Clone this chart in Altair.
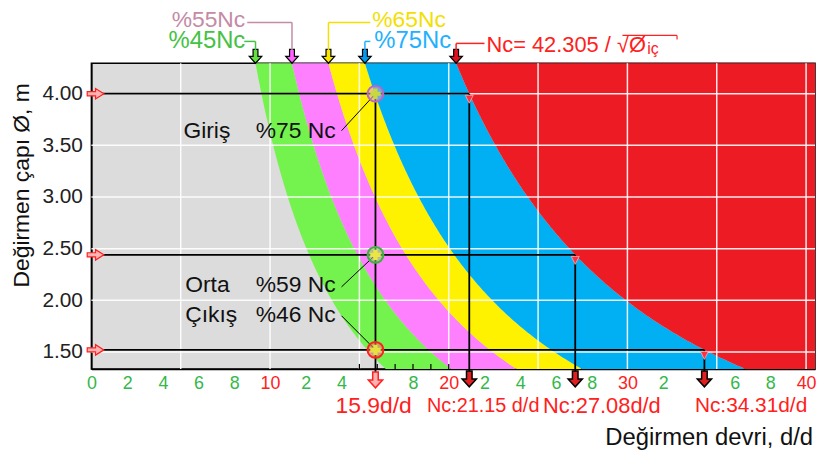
import altair as alt
import numpy as np
import pandas as pd

FONT = "Liberation Sans"

# ---- chart values ----
K_CRIT = 42.305                      # Nc = 42.305 / sqrt(D_ic)
band_names = ["%45-55 Nc", "%55-65 Nc", "%65-75 Nc", "%75-100 Nc", "> Nc"]
band_lo_pct = [0.45, 0.55, 0.65, 0.75, 1.00]
band_hi_pct = [0.55, 0.65, 0.75, 1.00, None]
band_colors = ["#74f24e", "#ff80ff", "#fff200", "#00b0f2", "#ed1c24"]
arrow_pcts = [0.45, 0.55, 0.65, 0.75, 1.00]
arrow_colors = ["#66e040", "#ff60ff", "#f8e800", "#0099ee", "#e01020"]

stages = ["Giriş", "Orta", "Çıkış"]
stage_pct_labels = ["%75 Nc", "%59 Nc", "%46 Nc"]
stage_diam = [4.00, 2.44, 1.52]
stage_nc = [21.15, 27.08, 34.31]
stage_ring = ["#b468c8", "#3cb43c", "#ff2020"]
stage_fill = ["#d9a0d0", "#88e060", "#ff7070"]
stage_cross = ["#c8d840", "#e8e840", "#e8e040"]
mill_speed = 15.9
bottom_labels = ["15.9d/d", "Nc:21.15 d/d", "Nc:27.08d/d", "Nc:34.31d/d"]

x_tick_values = [0, 2, 4, 6, 8, 10, 12, 14, 18, 20, 22, 24, 26, 28, 30, 32, 36, 38, 40]
y_tick_values = [1.5, 2.0, 2.5, 3.0, 3.5, 4.0]
grid_x = [5, 10, 15, 20, 25, 30, 35, 40]
grid_y = [1.5, 2.0, 2.5, 3.0, 3.5, 4.0]
minor_x = [15, 16, 17, 18, 19, 20]

X_MAX = 40.5
Y_MIN, Y_MAX = 1.335, 4.295
W, H = 729, 308

xs = alt.Scale(domain=[0, X_MAX], nice=False, zero=False)
ys = alt.Scale(domain=[Y_MIN, Y_MAX], nice=False, zero=False)

label_expr = ("datum.value == 0 ? '0' : (datum.value % 10 == 0 ? datum.label : '' + (datum.value % 10))")
X_AXIS = alt.Axis(
    values=x_tick_values, format="d", title=None, grid=False, ticks=False, tickSize=0,
    labelPadding=6, labelFontSize=18, labelFont=FONT, labelExpr=label_expr, labelFlush=False,
    labelColor={"condition": {"test": "datum.value % 10 == 0 && datum.value > 0", "value": "#ff2020"},
                "value": "#33b84a"},
    domainColor="#000000", domainWidth=1.5, labelOverlap=False)
Y_AXIS = alt.Axis(
    values=y_tick_values, format=".2f", title=None, grid=False, ticks=False, tickSize=0,
    labelPadding=9, labelFontSize=21, labelFont=FONT, labelColor="#222222", labelFlush=False,
    domainColor="#000000", domainWidth=1.5)


def XQ(f):
    return alt.X(f, type="quantitative", scale=xs, axis=X_AXIS)


def YQ(f):
    return alt.Y(f, type="quantitative", scale=ys, axis=Y_AXIS)


# ---- band table built from the formula on the chart ----
d_grid = np.linspace(Y_MIN, Y_MAX, 160)
rows = []
for name, lo, hi in zip(band_names, band_lo_pct, band_hi_pct):
    for d in d_grid:
        nc = K_CRIT / np.sqrt(d)
        rows.append({"band": name, "D": d, "lo": lo * nc,
                     "hi": (hi * nc) if hi is not None else X_MAX})
band_df = pd.DataFrame(rows)

bands = alt.Chart(band_df).mark_area(orient="horizontal").encode(
    y=YQ("D"), x=XQ("lo"), x2="hi:Q",
    color=alt.Color("band:N", scale=alt.Scale(domain=band_names, range=band_colors), legend=None),
)

gx = alt.Chart(pd.DataFrame({"g": grid_x})).mark_rule(color="white", strokeWidth=1.5, opacity=0.9).encode(
    x=XQ("g"), y=alt.value(0), y2=alt.value(H))
gy = alt.Chart(pd.DataFrame({"g": grid_y})).mark_rule(color="white", strokeWidth=1.5, opacity=0.9).encode(
    y=YQ("g"), x=alt.value(0), x2=alt.value(W))
minor = alt.Chart(pd.DataFrame({"m": minor_x})).mark_rule(color="#000", strokeWidth=1.2).encode(
    x=XQ("m"), y=alt.value(H - 5), y2=alt.value(H))

stage_df = pd.DataFrame({"stage": stages, "D": stage_diam, "nc": stage_nc, "x0": [0] * 3,
                         "ms": [mill_speed] * 3, "ring": stage_ring, "fillc": stage_fill,
                         "crossc": stage_cross})

hlines = alt.Chart(stage_df).mark_rule(color="#000", strokeWidth=1.8).encode(
    x=XQ("x0"), x2="nc:Q", y=YQ("D"))

vline_df = pd.DataFrame({"x": [mill_speed] + stage_nc, "D": [stage_diam[0]] + stage_diam})
vlines = alt.Chart(vline_df).mark_rule(color="#000", strokeWidth=1.8).encode(
    x=XQ("x"), y=YQ("D"), y2=alt.value(H + 9))

# annotations inside plot (data coordinates)
ann_df = pd.DataFrame({
    "x": [5.15, 5.25, 5.25, 9.2, 9.2, 9.2],
    "y": [3.642, 2.152, 1.854, 3.642, 2.152, 1.854],
    "t": stages + stage_pct_labels})
ann = alt.Chart(ann_df).mark_text(align="left", baseline="middle", font=FONT, fontSize=23,
                                  color="#111111").encode(x=XQ("x"), y=YQ("y"), text="t:N")
lead_df = pd.DataFrame({"x": [14.0, 14.0, 14.0], "y": [3.642, 2.13, 1.85],
                        "x2": [mill_speed] * 3, "y2": stage_diam})
leads = alt.Chart(lead_df).mark_rule(color="#000", strokeWidth=1).encode(
    x=XQ("x"), y=YQ("y"), x2="x2:Q", y2="y2:Q")

RIGHT_ARROW = "M -0.6 -0.3 L 0.6 -0.3 L 0.6 -0.75 L 1.8 0 L 0.6 0.75 L 0.6 0.3 L -0.6 0.3 Z"
DOWN_ARROW = "M -0.35 -1 L 0.35 -1 L 0.35 0 L 0.9 0 L 0 1 L -0.9 0 L -0.35 0 Z"
SMALL_DOWN = "M -1 0.4 L 1 0.4 L 0 2.4 Z"

left_marks = alt.Chart(stage_df).mark_point(shape=RIGHT_ARROW, filled=True, size=196, fill="#ffb4b4",
                                            stroke="#ff2020", strokeWidth=1.2, opacity=1).encode(
    x=XQ("x0"), y=YQ("D"))
nc_marks = alt.Chart(stage_df).mark_point(shape=SMALL_DOWN, filled=True, size=64, fill="#ff3040",
                                          stroke="#ffb0b0", strokeWidth=0.8, opacity=1).encode(
    x=XQ("nc"), y=YQ("D"))
dots = alt.Chart(stage_df).mark_point(shape="circle", filled=True, size=256, strokeWidth=2,
                                      fillOpacity=0.55, opacity=1).encode(
    x=XQ("ms"), y=YQ("D"), fill=alt.Fill("fillc:N", scale=None), stroke=alt.Stroke("ring:N", scale=None))
crosses = alt.Chart(stage_df).mark_point(shape="cross", filled=True, size=110, opacity=1).encode(
    x=XQ("ms"), y=YQ("D"), fill=alt.Fill("crossc:N", scale=None))

# arrows on top edge
top_df = pd.DataFrame({"ax": [p * K_CRIT / np.sqrt(Y_MAX) for p in arrow_pcts], "c": arrow_colors})
top_arrows = alt.Chart(top_df).mark_point(shape=DOWN_ARROW, filled=True, size=196, stroke="#000",
                                          strokeWidth=1.2, opacity=1).encode(
    x=XQ("ax"), y=alt.value(-7), fill=alt.Fill("c:N", scale=None))

# arrows under the x axis
bot_df = pd.DataFrame({"x": stage_nc})
bot_arrows = alt.Chart(bot_df).mark_point(shape=DOWN_ARROW, filled=True, size=256, fill="#e02020",
                                          stroke="#000", strokeWidth=1.5, opacity=1).encode(
    x=XQ("x"), y=alt.value(H + 10))
ms_arrow = alt.Chart(pd.DataFrame({"x": [mill_speed]})).mark_point(
    shape=DOWN_ARROW, filled=True, size=256, fill="#ffb0b0", stroke="#ff2020", strokeWidth=1.5,
    opacity=1).encode(x=XQ("x"), y=alt.value(H + 11))


def ptext(text, x, y, color, size, align="left", angle=None, baseline="middle"):
    kw = dict(align=align, baseline=baseline, font=FONT, fontSize=size, color=color, text=text)
    if angle is not None:
        kw["angle"] = angle
    return alt.Chart(pd.DataFrame({"a": [0]})).mark_text(**kw).encode(x=alt.value(x), y=alt.value(y))


def prule(x, x2, y, y2, color, w=1.5):
    return alt.Chart(pd.DataFrame({"a": [0]})).mark_rule(color=color, strokeWidth=w).encode(
        x=alt.value(x), x2=alt.value(x2), y=alt.value(y), y2=alt.value(y2))


def conn(ax, y, x_end, color):
    d = pd.DataFrame({"ax": [ax]})
    h = alt.Chart(d).mark_rule(color=color, strokeWidth=1.5).encode(
        x=XQ("ax"), x2=alt.value(x_end), y=alt.value(y))
    v = alt.Chart(d).mark_rule(color=color, strokeWidth=1.5).encode(
        x=XQ("ax"), y=alt.value(y), y2=alt.value(-13))
    return h + v


ax = list(top_df["ax"])
outside = [
    ptext("%55Nc", 155, -44, "#c48aa6", 23, align="right"),
    ptext("%45Nc", 155, -22, "#44c244", 24, align="right"),
    ptext("%65Nc", 283, -44, "#f2e000", 23),
    ptext("%75Nc", 285, -22, "#22b0ff", 24),
    ptext("Nc= 42.305 / √Ø", 398, -18, "#ff2020", 22),
    ptext("iç", 560, -14, "#ff2020", 16),
    prule(535, 590, -28, -28, "#ff2020", 1.2),
    prule(590, 590, -28, -24, "#ff2020", 1.2),
    conn(ax[1], -41, 157, "#c48aa6"),
    conn(ax[0], -22, 154, "#44c244"),
    conn(ax[2], -41, 281, "#f2e000"),
    conn(ax[3], -22, 281, "#22b0ff"),
    conn(ax[4], -20, 396, "#ff2020"),
    ptext(bottom_labels[0], 246, 345, "#ff2020", 23),
    ptext(bottom_labels[1], 338, 345, "#ff2020", 20),
    ptext(bottom_labels[2], 455, 345, "#ff2020", 22),
    ptext(bottom_labels[3], 608, 345, "#ff2020", 21),
    ptext("Değirmen devri, d/d", 727, 378, "#111111", 24, align="right"),
    ptext("Değirmen çapı Ø, m", -70, 123, "#111111", 23, align="center", angle=270),
]

chart = alt.layer(
    bands, gx, gy, minor, hlines, vlines, leads, ann,
    left_marks, nc_marks, dots, crosses, top_arrows, bot_arrows, ms_arrow, *outside
).properties(
    width=W, height=H, autosize="none", background="white",
    padding={"left": 84, "top": 54, "right": 2, "bottom": 86},
).configure_view(fill="#dcdcdc", stroke="#000000", strokeWidth=1.5)

chart.save("out.html", embed_options={"renderer": "svg", "actions": False})
